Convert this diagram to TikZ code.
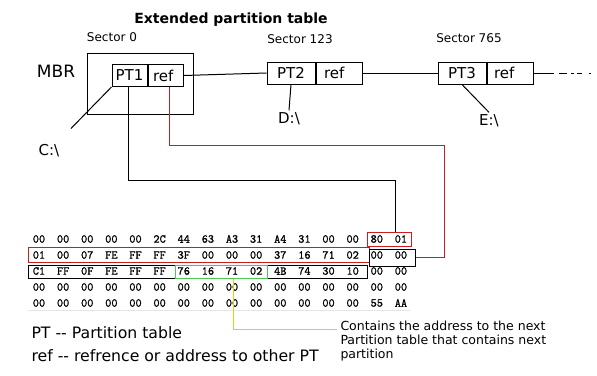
\documentclass[tikz,border=0pt]{standalone}
\usepackage[dvipsnames]{xcolor}
\usepackage{fontspec}
\setmainfont{DejaVu Sans}
\newfontfamily\hexfont[FakeBold=1.2]{Latin Modern Mono}
\usepackage{tikz}
\usetikzlibrary{calc}
\definecolor{hexred}{RGB}{200,30,35}
\definecolor{hexgreen}{RGB}{80,200,80}
\definecolor{hexyellow}{RGB}{230,205,20}

\begin{document}
\begin{tikzpicture}[x=1pt,y=-1pt,line width=1pt,
   every node/.style={inner sep=0pt},
   cell/.style={draw,minimum height=22pt,font=\fontsize{15}{15}\selectfont},
   refcell/.style={cell,text width=#1,inner xsep=7pt,align=left},
   sector/.style={font=\fontsize{12}{12}\selectfont},
   drive/.style={font=\fontsize{15}{15}\selectfont},
   hexcell/.style={font=\hexfont\fontsize{12}{12}\selectfont},
   hexbox/.style={draw,minimum width=#1}]
   \newcommand{\colstep}{24.13}
   \useasboundingbox (0,0) rectangle (597,375);
   \node[font=\bfseries\fontsize{14}{14}\selectfont] (title) at (231,20) {Extended partition table};
   \node[font=\fontsize{17}{17}\selectfont] (mbr) at (56,71) {MBR};
   \node[draw,minimum width=106pt,minimum height=61pt] (mbrbox) at (140,83.5) {};
   \node[sector] (sec0) at (112,37) {Sector 0};
   \node[sector] (sec123) at (300,39) {Sector 123};
   \node[sector] (sec765) at (469,38) {Sector 765};
   \node[cell,minimum width=35pt] (pt1) at (129.5,75.5) {PT1};
   \node[refcell=25pt,anchor=west,inner xsep=5pt] (ref1) at (pt1.east) {ref};
   \node[cell,minimum width=48pt] (pt2) at (291,73) {PT2};
   \node[refcell=30pt,anchor=west,inner xsep=8pt] (ref2) at (pt2.east) {ref};
   \node[cell,minimum width=48pt] (pt3) at (462,73) {PT3};
   \node[refcell=32pt,anchor=west] (ref3) at (pt3.east) {ref};
   \coordinate (chainend) at (597,73);
   \node[drive] (cdrive) at (49,151) {C:\textbackslash};
   \node[drive,inner sep=2pt] (ddrive) at (289,119) {D:\textbackslash};
   \node[drive,inner sep=2pt] (edrive) at (489,121) {E:\textbackslash};
   \draw (ref1.east) -- (pt2.west);
   \draw (ref2.east) -- (pt3.west);
   \draw[dash pattern=on 20pt off 5pt on 8pt off 4pt on 3pt off 3pt on 5pt off 7pt on 2pt off 7pt] (ref3.east) -- (chainend);
   \draw[shorten >=22pt] (pt1.south west) -- (cdrive);
   \draw (pt2.south) -- (ddrive.north);
   \draw (pt3.south) -- (edrive.north);
   \foreach \row [count=\r] in {
      {00,00,00,00,00,2C,44,63,A3,31,A4,31,00,00,80,01},
      {01,00,07,FE,FF,FF,3F,00,00,00,37,16,71,02,00,00},
      {C1,FF,0F,FE,FF,FF,76,16,71,02,4B,74,30,10,00,00},
      {00,00,00,00,00,00,00,00,00,00,00,00,00,00,00,00},
      {00,00,00,00,00,00,00,00,00,00,00,00,00,00,55,AA}}
   {
      \foreach \byte [count=\c from 0] in \row
         \node[hexcell] (h-\r-\c) at ({39+\colstep*\c},{223+16*\r}) {\byte};
   }
   \draw[black!10] (28,310) -- (410,310);
   \node[hexbox=44pt,minimum height=14pt,draw=hexred] (red1) at (389,239) {};
   \node[hexbox=341pt,minimum height=15pt,draw=hexred] (red2) at (198.5,254.5) {};
   \node[hexbox=46pt,minimum height=17pt] (black1) at (392,257.5) {};
   \node[hexbox=339pt,minimum height=13pt] (black2) at (197.5,271.5) {};
   \node[hexbox=92pt,minimum height=13pt,draw=hexgreen] (green) at (221,271.5) {};
   \draw (pt1.south) ++(-1.5,0) |- ($(red1.north)+(6,-51)$) -- ($(red1.north)+(6,0)$);
   \draw[hexred] (ref1.south) ++(3.5,0) |- ($(black1.east)+(29,-112.5)$) |- (black1.east);
   \coordinate (notetip) at (337,329);
   \node[anchor=north west,align=left,font=\fontsize{12.5}{14}\selectfont] (note) at (340,320)
      {Contains the address to the next\\Partition table that contains next\\partition};
   \draw[hexyellow] (green.south) ++(12,0) |- (notetip);
   \node[anchor=west,align=left,font=\fontsize{15.7}{23}\selectfont] (legend) at (31,344.5)
      {PT -{}- Partition table\\ref -{}- refrence or address to other PT};
\end{tikzpicture}
\end{document}
